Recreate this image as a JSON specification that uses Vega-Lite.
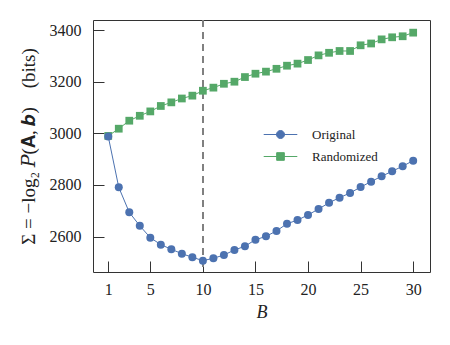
{
  "$schema": "https://vega.github.io/schema/vega-lite/v6.json",
  "width": 337,
  "height": 252,
  "autosize": "none",
  "padding": {"left": 93, "top": 20, "right": 20, "bottom": 73},
  "background": "white",
  "config": {
    "font": "Liberation Serif",
    "view": {"stroke": "#333333", "strokeWidth": 1},
    "axis": {
      "labelFont": "Liberation Serif",
      "titleFont": "Liberation Serif, DejaVu Serif",
      "labelFontSize": 16,
      "titleFontSize": 18,
      "labelColor": "#222222",
      "titleColor": "#222222",
      "titleFontWeight": "normal",
      "grid": false,
      "domain": false,
      "tickColor": "#333333",
      "tickWidth": 1,
      "tickSize": -11,
      "format": "d"
    }
  },
  "data": {
    "values": [
      {"B": 1, "series": "Randomized", "bits": 2990},
      {"B": 2, "series": "Randomized", "bits": 3018},
      {"B": 3, "series": "Randomized", "bits": 3049},
      {"B": 4, "series": "Randomized", "bits": 3068},
      {"B": 5, "series": "Randomized", "bits": 3085},
      {"B": 6, "series": "Randomized", "bits": 3106},
      {"B": 7, "series": "Randomized", "bits": 3120},
      {"B": 8, "series": "Randomized", "bits": 3135},
      {"B": 9, "series": "Randomized", "bits": 3146},
      {"B": 10, "series": "Randomized", "bits": 3165},
      {"B": 11, "series": "Randomized", "bits": 3177},
      {"B": 12, "series": "Randomized", "bits": 3192},
      {"B": 13, "series": "Randomized", "bits": 3200},
      {"B": 14, "series": "Randomized", "bits": 3218},
      {"B": 15, "series": "Randomized", "bits": 3231},
      {"B": 16, "series": "Randomized", "bits": 3239},
      {"B": 17, "series": "Randomized", "bits": 3250},
      {"B": 18, "series": "Randomized", "bits": 3262},
      {"B": 19, "series": "Randomized", "bits": 3270},
      {"B": 20, "series": "Randomized", "bits": 3284},
      {"B": 21, "series": "Randomized", "bits": 3302},
      {"B": 22, "series": "Randomized", "bits": 3312},
      {"B": 23, "series": "Randomized", "bits": 3319},
      {"B": 24, "series": "Randomized", "bits": 3319},
      {"B": 25, "series": "Randomized", "bits": 3341},
      {"B": 26, "series": "Randomized", "bits": 3348},
      {"B": 27, "series": "Randomized", "bits": 3364},
      {"B": 28, "series": "Randomized", "bits": 3372},
      {"B": 29, "series": "Randomized", "bits": 3376},
      {"B": 30, "series": "Randomized", "bits": 3390},
      {"B": 1, "series": "Original", "bits": 2988},
      {"B": 2, "series": "Original", "bits": 2791},
      {"B": 3, "series": "Original", "bits": 2694},
      {"B": 4, "series": "Original", "bits": 2642},
      {"B": 5, "series": "Original", "bits": 2596},
      {"B": 6, "series": "Original", "bits": 2569},
      {"B": 7, "series": "Original", "bits": 2551},
      {"B": 8, "series": "Original", "bits": 2534},
      {"B": 9, "series": "Original", "bits": 2520},
      {"B": 10, "series": "Original", "bits": 2507},
      {"B": 11, "series": "Original", "bits": 2516},
      {"B": 12, "series": "Original", "bits": 2529},
      {"B": 13, "series": "Original", "bits": 2548},
      {"B": 14, "series": "Original", "bits": 2563},
      {"B": 15, "series": "Original", "bits": 2588},
      {"B": 16, "series": "Original", "bits": 2601},
      {"B": 17, "series": "Original", "bits": 2622},
      {"B": 18, "series": "Original", "bits": 2650},
      {"B": 19, "series": "Original", "bits": 2664},
      {"B": 20, "series": "Original", "bits": 2684},
      {"B": 21, "series": "Original", "bits": 2707},
      {"B": 22, "series": "Original", "bits": 2731},
      {"B": 23, "series": "Original", "bits": 2751},
      {"B": 24, "series": "Original", "bits": 2769},
      {"B": 25, "series": "Original", "bits": 2792},
      {"B": 26, "series": "Original", "bits": 2813},
      {"B": 27, "series": "Original", "bits": 2834},
      {"B": 28, "series": "Original", "bits": 2853},
      {"B": 29, "series": "Original", "bits": 2873},
      {"B": 30, "series": "Original", "bits": 2894}
    ]
  },
  "encoding": {
    "x": {
      "field": "B",
      "type": "quantitative",
      "scale": {"domain": [-0.45, 31.6], "nice": false, "zero": false},
      "axis": {
        "title": "B",
        "titleFontStyle": "italic",
        "values": [1, 5, 10, 15, 20, 25, 30],
        "labelPadding": 20,
        "titlePadding": 6
      }
    },
    "y": {
      "field": "bits",
      "type": "quantitative",
      "scale": {"domain": [2463, 3439], "nice": false, "zero": false},
      "axis": {
        "title": "Σ = −log₂ 𝑃(𝐀, 𝒃)\u00a0\u00a0\u00a0\u00a0(bits)",
        "titleFontSize": 19,
        "values": [2600, 2800, 3000, 3200, 3400],
        "labelPadding": 23,
        "titlePadding": 11
      }
    },
    "color": {
      "field": "series",
      "type": "nominal",
      "scale": {"domain": ["Original", "Randomized"], "range": ["#4C72B0", "#55A868"]},
      "legend": {
        "title": null,
        "orient": "none",
        "legendX": 179,
        "legendY": 106,
        "padding": 0,
        "symbolSize": 256,
        "symbolStrokeWidth": 1,
        "labelFont": "Liberation Serif",
        "labelFontSize": 13,
        "labelColor": "#222222",
        "labelOffset": 23,
        "rowPadding": 6,
        "encode": {
          "symbols": {
            "update": {
              "shape": {"signal": "datum.value === 'Original' ? 'M-2.1,0H2.1M-0.5,0A0.5,0.5 0 1,0 0.5,0A0.5,0.5 0 1,0 -0.5,0Z' : 'M-2.1,0H2.1M-0.48,-0.48H0.48V0.48H-0.48Z'"},
              "fill": {"signal": "scale('color', datum.value)"},
              "stroke": {"signal": "scale('color', datum.value)"},
              "strokeWidth": {"value": 1},
              "opacity": {"value": 1}
            }
          }
        }
      }
    }
  },
  "layer": [
    {
      "mark": {"type": "rule", "color": "#808080", "strokeWidth": 1.5, "strokeDash": [7, 5]},
      "encoding": {
        "x": {"datum": 10, "type": "quantitative"},
        "y": null,
        "color": null
      }
    },
    {
      "mark": {"type": "line", "strokeWidth": 1},
      "encoding": {
        "detail": {"field": "series"}
      }
    },
    {
      "transform": [{"filter": "datum.series === 'Randomized'"}],
      "mark": {"type": "point", "shape": "square", "filled": true, "opacity": 1, "size": 60}
    },
    {
      "transform": [{"filter": "datum.series === 'Original'"}],
      "mark": {"type": "point", "shape": "circle", "filled": true, "opacity": 1, "size": 64}
    }
  ]
}
